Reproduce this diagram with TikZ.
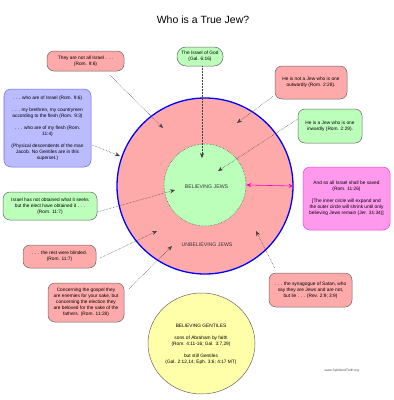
\documentclass[tikz,border=0pt]{standalone}
\usepackage{fontspec}
\setmainfont{Liberation Sans}
\usetikzlibrary{arrows.meta,shapes.geometric}
\definecolor{pinkf}{HTML}{FFAAAA}
\definecolor{greenf}{HTML}{BBFFBB}
\definecolor{bluef}{HTML}{BBBBFF}
\definecolor{blueb}{HTML}{6666FF}
\definecolor{magf}{HTML}{FF99EE}
\definecolor{magb}{HTML}{EE44CC}
\definecolor{magarr}{HTML}{FF00CC}
\definecolor{yellowf}{HTML}{FFFFAA}
\definecolor{boxb}{HTML}{666666}
\tikzset{
  txt/.style={font=\fontsize{4.8}{6}\selectfont, align=center},
  card/.style={txt, draw=boxb, line width=0.5pt, rounded corners=7pt, inner sep=0pt},
  pinkbox/.style={card, fill=pinkf},
  greenbox/.style={card, fill=greenf},
  bluebox/.style={card, fill=bluef, draw=blueb},
  magbox/.style={card, fill=magf, draw=magb},
  ptr/.style={densely dotted, draw=black!75, line width=0.5pt, -{Stealth[length=5pt,width=4pt]}},
}
\newcommand{\gap}{\\[6pt]}
\begin{document}
\begin{tikzpicture}[x={(1pt,0)}, y={(0,-1pt)}]
\useasboundingbox (0,0) rectangle (394,400);
\node[font=\fontsize{10.5}{12}\selectfont] (title) at (203,20) {Who is a True Jew?};
% circles
\node[circle, draw=blue, line width=1.3pt, fill=pinkf, minimum size=176pt, inner sep=0pt] (outer) at (205,186) {};
\node[circle, draw=black!75, densely dotted, line width=0.5pt, fill=greenf, minimum size=82pt, inner sep=0pt] (inner) at (205,185) {};
\node[txt, font=\fontsize{5.2}{6}\selectfont, text=black!80] (bj) at (206.5,187) {BELIEVING JEWS};
\node[txt, font=\fontsize{5.2}{6}\selectfont, text=black!80] (uj) at (207,245) {UNBELIEVING JEWS};
\node[ellipse, draw=boxb, line width=0.5pt, fill=yellowf, minimum width=107pt, minimum height=101pt, inner sep=0pt] (gent) at (201.5,343.5) {};
\node[txt] (genttext) at (201,344) {BELIEVING GENTILES\gap sons of Abraham by faith\\(Rom. 4:11-16; Gal. 3:7,29)\gap but still Gentiles\\(Gal. 2:12,14; Eph. 3:6; 4:17 MT)};
% boxes
\node[pinkbox, minimum width=77pt, minimum height=20pt] (n1) at (85.5,61) {They are not all Israel . . .\\(Rom. 9:6)};
\node[greenbox, rounded corners=9pt, minimum width=46pt, minimum height=19pt] (n2) at (200,56.5) {The Israel of God\\(Gal. 6:16)};
\node[pinkbox, minimum width=72pt, minimum height=33pt] (n3) at (311,82.5) {He is not a Jew who is one\\outwardly (Rom. 2:28).};
\node[greenbox, minimum width=64pt, minimum height=34pt] (n4) at (330,126) {He is a Jew who is one\\inwardly (Rom. 2:29).};
\node[bluebox, minimum width=87pt, minimum height=78pt] (n5) at (47.5,128) {. . . who are of Israel (Rom. 9:6)\gap . . . my brethren, my countrymen\\according to the flesh (Rom. 9:3)\gap . . . who are of my flesh (Rom.\\11:4)\gap (Physical descendents of the man\\Jacob. No Gentiles are in this\\superset.)};
\node[greenbox, minimum width=94pt, minimum height=28pt] (n6) at (50,206) {Israel has not obtained what it seeks\\but the elect have obtained it . . .\\(Rom. 11:7)};
\node[pinkbox, minimum width=73pt, minimum height=23pt] (n7) at (59.5,256.5) {. . . the rest were blinded.\\(Rom. 11:7)};
\node[pinkbox, minimum width=76pt, minimum height=39pt] (n8) at (86,302.5) {Concerning the gospel they\\are enemies for your sake, but\\concerning the election they\\are beloved for the sake of the\\fathers. (Rom. 11:28)};
\node[pinkbox, minimum width=83pt, minimum height=34pt] (n9) at (310.5,290) {. . . the synagogue of Satan, who\\say they are Jews and are not,\\but lie . . . (Rev. 2:9; 3:9)};
\node[magbox, minimum width=87pt, minimum height=63pt] (n10) at (346.5,198.5) {And so all Israel shall be saved\\(Rom. 11:26)\gap [The inner circle will expand and\\the outer circle will shrink until only\\believing Jews remain (Jer. 31:34)]};
\node[font=\fontsize{3.3}{4}\selectfont, text=black!70] (url) at (342,371) {www.SpiritAndTruth.org};
% arrow targets
\coordinate (t1) at (163,128);
\coordinate (t2) at (202,158);
\coordinate (t3) at (237,123);
\coordinate (t4) at (218,171);
\coordinate (t5) at (120,156);
\coordinate (t6) at (175,190);
\coordinate (t7) at (157,231);
\coordinate (t8) at (172,246);
\coordinate (t9) at (256,231);
% arrows
\draw[ptr] ([shift={(24.5,4)}]n1.south) -- (t1);
\draw[ptr] ([xshift=2pt]n2.south) -- (t2);
\draw[ptr] ([shift={(-2,14)}]n3.west) -- (t3);
\draw[ptr] ([yshift=7pt]n4.west) -- (t4);
\draw[ptr] ([shift={(1,17)}]n5.east) -- (t5);
\draw[ptr] ([yshift=-6pt]n6.east) -- (t6);
\draw[ptr] ([shift={(4,1.5)}]n7.east) -- (t7);
\draw[ptr] ([shift={(5,-14)}]n8.east) -- (t8);
\draw[ptr] ([shift={(-36,-5)}]n9.north) -- (t9);
\draw[magarr, line width=0.6pt, {Stealth[length=5pt,width=4pt]}-{Stealth[length=5pt,width=4pt]}] (inner.east) -- (outer.east);
\end{tikzpicture}
\end{document}
